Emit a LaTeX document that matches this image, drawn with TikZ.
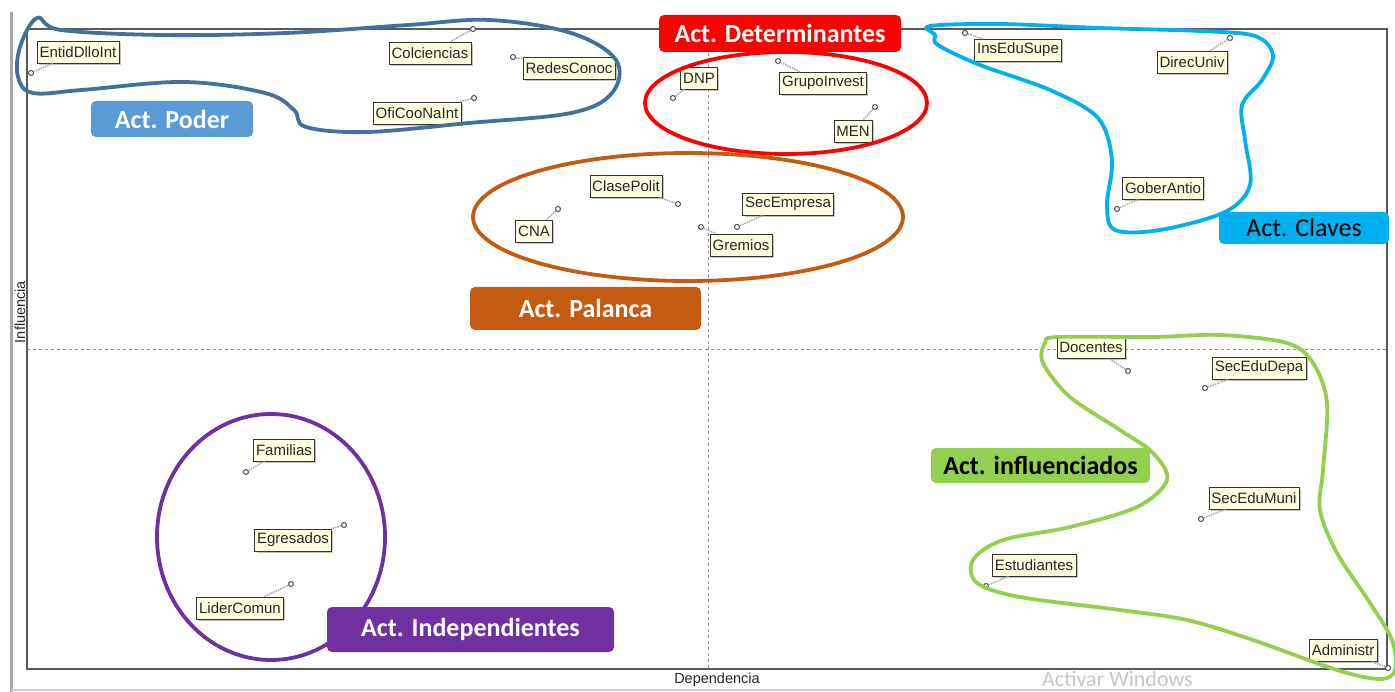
\documentclass[tikz,border=0pt]{standalone}
\usepackage{fontspec}
\setmainfont{Liberation Sans}
\newfontfamily\calibri{Carlito}
\usetikzlibrary{shadows}
\definecolor{cream}{HTML}{FFFFDF}
\definecolor{poderline}{HTML}{41719C}
\definecolor{poderfill}{HTML}{5B9BD5}
\definecolor{palanca}{HTML}{C55A11}
\definecolor{claves}{HTML}{00B0F0}
\definecolor{influ}{HTML}{92D050}
\definecolor{indep}{HTML}{7030A0}
\begin{document}
\begin{tikzpicture}[x=1pt, y=-1pt]
    % Define styles
    \tikzset{
        actor/.style={draw=black!80, fill=cream, text=black!85,
            font=\fontsize{15}{16}\selectfont, inner sep=2.5pt, minimum height=22pt,
            drop shadow={shadow xshift=2pt, shadow yshift=-2pt, fill=black!45}},
        pindot/.style={circle, draw=black!70, fill=white, line width=1pt,
            inner sep=0pt, minimum size=5pt},
        conn/.style={gray!70, densely dotted, line width=1.5pt},
        cluster/.style={line width=3.8pt},
        catlabel/.style={rounded corners=5pt, inner sep=0pt, text=white,
            font=\calibri\bfseries\fontsize{26}{28}\selectfont},
        plotframe/.style={draw=black!65, line width=1.6pt},
        guide/.style={black!45, dashed, line width=0.6pt},
        axislabel/.style={font=\fontsize{14.5}{15}\selectfont, text=black!85}
    }
    \useasboundingbox (0,0) rectangle (1395,692);
    
    % Draw window edges
    \draw[gray!70, line width=3pt] (11,12) -- (11,692);
    \draw[gray!35, line width=1.5pt] (11,690) -- (1395,690);
    
    % Draw plot frame and quadrant lines
    \draw[plotframe] (27,29) rectangle (1387,669);
    \draw[guide] (27,349) -- (1387,349);
    \draw[guide] (708,29) -- (708,669);
    \node[axislabel, rotate=90] (ylab) at (20,312) {Influencia};
    \node[axislabel] (xlab) at (717,680) {Dependencia};
    
    % Draw actors with their points
    \foreach \actor/\cx/\cy/\px/\py in {
        EntidDlloInt/78/52/31/73, Colciencias/430/53/473/29,
        RedesConoc/569/68/513/57, OfiCooNaInt/417/113/474/98,
        DNP/699/78/673/98, GrupoInvest/823/83/778/61, MEN/853/131/875/107,
        InsEduSupe/1018/50/965/33, DirecUniv/1192/62/1230/38,
        GoberAntio/1163/188/1117/209, ClasePolit/626/186/678/204,
        CNA/534/231/558/209, SecEmpresa/788/204/737/227, Gremios/741/245/701/227,
        Docentes/1091/347/1128/371, SecEduDepa/1259/368/1205/388,
        SecEduMuni/1254/498/1201/519, Estudiantes/1034/565/986/586,
        Administr/1343/650/1388/668, Familias/284/450/246/472,
        Egresados/293/540/344/525, LiderComun/240/608/291/584}{
        \node[actor] (\actor) at (\cx,\cy) {\actor};
        \node[pindot] (p\actor) at (\px,\py) {};
        \draw[conn] (p\actor) -- (\actor);
    }
    
    % Draw actor groups
    \draw[cluster, poderline] plot[smooth cycle, tension=0.6] coordinates {
        (37,18) (61,30) (163,35) (286,33) (408,25) (490,20) (571,33) (616,60)
        (612,93) (571,113) (469,123) (367,132) (306,127) (294,110) (265,93)
        (184,82) (82,90) (33,93) (18,77) (20,47)};
    \draw[cluster, red] (786,103) ellipse [x radius=141, y radius=51];
    \draw[cluster, palanca] (688,217) ellipse [x radius=215, y radius=64];
    \draw[cluster, claves] plot[smooth cycle, tension=0.55] coordinates {
        (930,26) (1000,24) (1100,28) (1200,31) (1255,36) (1273,55) (1262,80)
        (1242,105) (1245,140) (1250,185) (1225,212) (1160,230) (1115,230)
        (1107,205) (1112,160) (1098,118) (1050,90) (980,65) (938,45) (935,35)};
    \draw[cluster, influ] plot[smooth cycle, tension=0.55] coordinates {
        (1058,337) (1153,337) (1220,335) (1287,343) (1313,363) (1327,403)
        (1323,470) (1320,510) (1337,553) (1370,603) (1392,640) (1395,670)
        (1380,679) (1337,670) (1253,640) (1187,620) (1120,610) (1020,597)
        (977,583) (973,560) (1003,540) (1070,527) (1137,507) (1167,480)
        (1153,453) (1120,430) (1070,397) (1043,363) (1045,343)};
    \draw[cluster, indep] (271,537) ellipse [x radius=114, y radius=123];
    
    % Add group labels
    \node[catlabel, fill=poderfill, minimum width=162pt, minimum height=36pt]
        (poder) at (172,119) {Act. Poder};
    \node[catlabel, fill=red, minimum width=242pt, minimum height=37pt]
        (determ) at (780,33.5) {Act. Determinantes};
    \node[catlabel, fill=palanca, minimum width=231pt, minimum height=43pt]
        (palanca) at (585.5,308.5) {Act. Palanca};
    \node[catlabel, fill=claves, text=black, font=\calibri\fontsize{26}{28}\selectfont,
        minimum width=170pt, minimum height=32pt] (claves) at (1304,228) {Act. Claves};
    \node[catlabel, fill=indep, minimum width=287pt, minimum height=45pt]
        (indep) at (470.5,629.5) {Act. Independientes};
    \node[catlabel, fill=influ, text=black, minimum width=219pt, minimum height=35pt]
        (influ) at (1040.5,465.5) {Act. influenciados};
    
    % Add watermark
    \node[anchor=base west, inner sep=0pt, text=gray!45,
        font=\calibri\fontsize{22}{24}\selectfont] (wm) at (1042,686) {Activar Windows};
\end{tikzpicture}
\end{document}
